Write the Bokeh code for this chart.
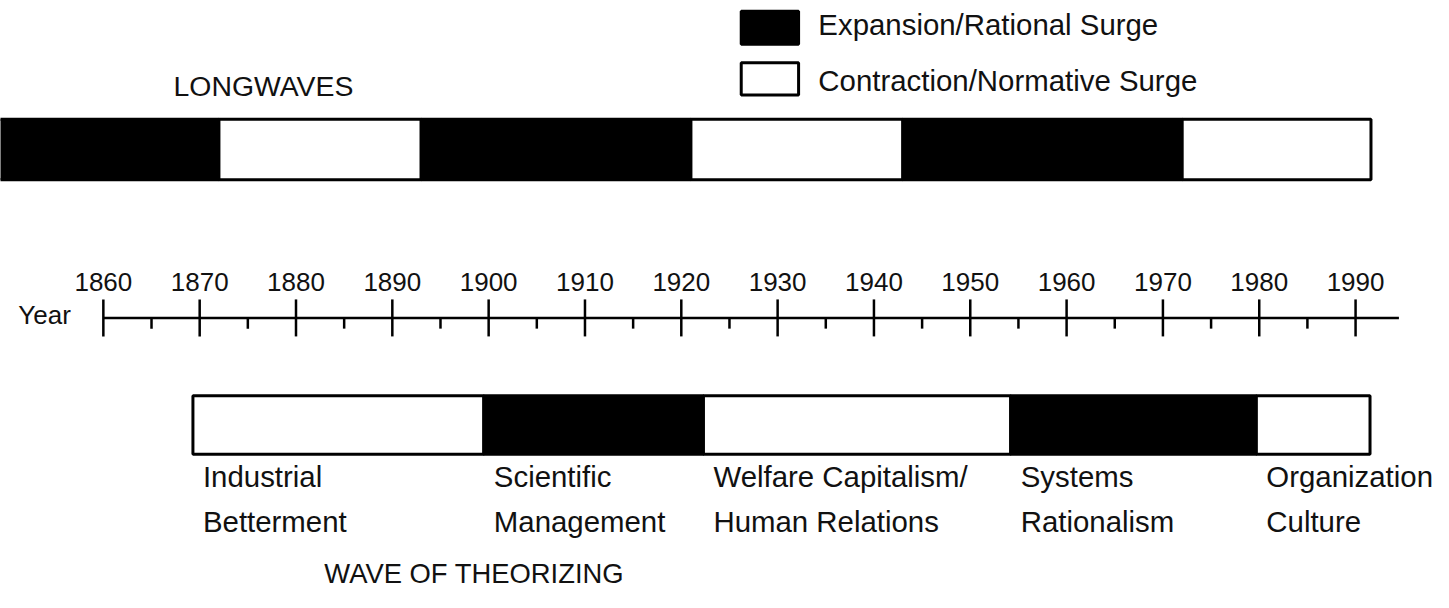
from bokeh.plotting import figure
from bokeh.models import Range1d, ColumnDataSource
from bokeh.core.properties import value
from bokeh.embed import file_html
from bokeh.resources import INLINE

# ---------------- data ----------------
longwave_start = [1849, 1872, 1893, 1921, 1943, 1972]
longwave_end = [1872, 1893, 1921, 1943, 1972, 1991.6]
longwave_phase = ["Expansion", "Contraction", "Expansion", "Contraction", "Expansion", "Contraction"]

theory_start = [1869.3, 1899.5, 1922.3, 1954.2, 1979.7]
theory_end = [1899.5, 1922.3, 1954.2, 1979.7, 1991.5]
theory_phase = ["Contraction", "Expansion", "Contraction", "Expansion", "Contraction"]
theory_labels = ["Industrial\nBetterment", "Scientific\nManagement",
                 "Welfare Capitalism/\nHuman Relations", "Systems\nRationalism",
                 "Organization\nCulture"]

year_ticks = list(range(1860, 1991, 10))
minor_ticks = list(range(1865, 1991, 10))
axis_end = 1994.5

legend_labels = ["Expansion/Rational Surge", "Contraction/Normative Surge"]
phase_colors = {"Expansion": "black", "Contraction": "white"}

# ---------------- layout ----------------
REF_W, REF_H = 1449, 608
W, H = 1433, 592
PX = 9.74          # reference pixels per year
X0_PX = 104        # reference x of 1860
def yr(px):
    return 1860 + (px - X0_PX) / PX
S = 0.98           # font scale from reference to canvas

FONT = value("Liberation Sans")
TC = "#111111"

p = figure(width=W, height=H, output_backend="svg", toolbar_location=None,
           x_range=Range1d(yr(0), yr(REF_W)), y_range=Range1d(REF_H, 0),
           x_axis_location=None, y_axis_location=None, min_border=0)
p.grid.visible = False
p.outline_line_color = None
p.background_fill_color = "white"
p.border_fill_color = "white"

def fs(v):
    return f"{v * S:.1f}px"

# Longwaves bar
lw = ColumnDataSource(dict(left=longwave_start, right=longwave_end,
                           color=[phase_colors[v] for v in longwave_phase]))
p.quad(left="left", right="right", bottom=184, top=122, source=lw,
       fill_color="color", line_color="black", line_width=3)
p.text(x=[yr(175)], y=[88], text=["LONGWAVES"], text_font=FONT,
       text_font_size=fs(29), text_baseline="middle", text_align="left", text_color=TC)

# Year axis
p.segment(x0=[year_ticks[0]], y0=[326], x1=[axis_end], y1=[326], line_color="black", line_width=2.5)
p.segment(x0=year_ticks, y0=[307] * len(year_ticks), x1=year_ticks, y1=[345] * len(year_ticks),
          line_color="black", line_width=2.5)
p.segment(x0=minor_ticks, y0=[326] * len(minor_ticks), x1=minor_ticks, y1=[337] * len(minor_ticks),
          line_color="black", line_width=2.5)
p.text(x=year_ticks, y=[289] * len(year_ticks), text=[str(t) for t in year_ticks], text_font=FONT,
       text_font_size=fs(26.5), text_baseline="middle", text_align="center", text_color=TC)
p.text(x=[yr(18)], y=[323], text=["Year"], text_font=FONT, text_font_size=fs(26.5),
       text_baseline="middle", text_align="left", text_color=TC)

# Theorizing bar
th = ColumnDataSource(dict(left=theory_start, right=theory_end,
                           color=[phase_colors[v] for v in theory_phase]))
p.quad(left="left", right="right", bottom=466, top=406, source=th,
       fill_color="color", line_color="black", line_width=3)
line1 = [lab.split("\n")[0] for lab in theory_labels]
line2 = [lab.split("\n")[1] for lab in theory_labels]
p.text(x=theory_start, y=[489] * len(theory_start), x_offset=10, text=line1, text_font=FONT,
       text_font_size=fs(30), text_baseline="middle", text_align="left", text_color=TC)
p.text(x=theory_start, y=[535] * len(theory_start), x_offset=10, text=line2, text_font=FONT,
       text_font_size=fs(30), text_baseline="middle", text_align="left", text_color=TC)
p.text(x=[yr(479)], y=[588], text=["WAVE OF THEORIZING"], text_font=FONT, text_font_size=fs(28),
       text_baseline="middle", text_align="center", text_color=TC)

# Legend
lx0, lx1 = yr(749), yr(807)
p.quad(left=[lx0, lx0], right=[lx1, lx1], top=[11, 64], bottom=[45, 97],
       fill_color=["black", "white"], line_color="black", line_width=3)
p.text(x=[yr(827), yr(827)], y=[25, 82], text=legend_labels, text_font=FONT,
       text_font_size=fs(30), text_baseline="middle", text_align="left", text_color=TC)

open("out.html", "w").write(file_html(p, INLINE))
